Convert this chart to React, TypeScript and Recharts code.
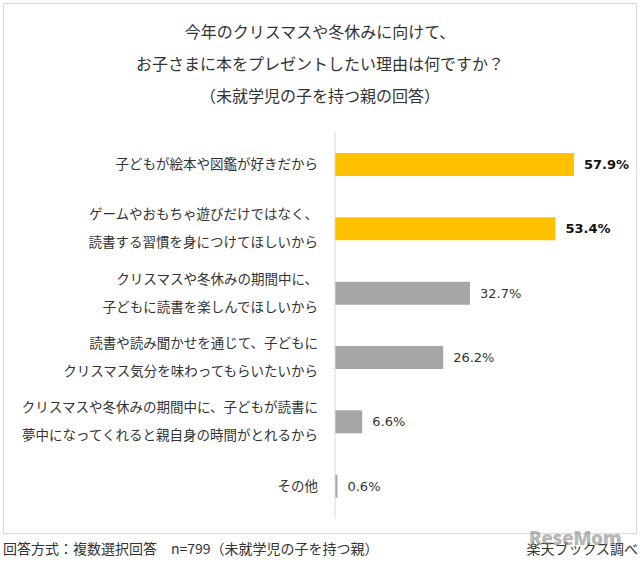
import { BarChart, Bar, XAxis, YAxis, Cell, LabelList } from "recharts";

const categories = [
  "子どもが絵本や図鑑が好きだから",
  "ゲームやおもちゃ遊びだけではなく、\n読書する習慣を身につけてほしいから",
  "クリスマスや冬休みの期間中に、\n子どもに読書を楽しんでほしいから",
  "読書や読み聞かせを通じて、子どもに\nクリスマス気分を味わってもらいたいから",
  "クリスマスや冬休みの期間中に、子どもが読書に\n夢中になってくれると親自身の時間がとれるから",
  "その他",
];
const values = [57.9, 53.4, 32.7, 26.2, 6.6, 0.6];
const highlighted = [true, true, false, false, false, false];

const titleLines = [
  "今年のクリスマスや冬休みに向けて、",
  "お子さまに本をプレゼントしたい理由は何ですか？",
  "（未就学児の子を持つ親の回答）",
];
const footerLeft = "回答方式：複数選択回答　n=799（未就学児の子を持つ親）";
const footerRight = "楽天ブックス調べ";

const data = categories.map((name, i) => ({
  name,
  value: values[i],
  hi: highlighted[i],
}));

const JP = '"Noto Sans CJK JP", "Noto Sans", sans-serif';
const NUM = '"DejaVu Sans", "Noto Sans CJK JP", sans-serif';

function CategoryTick(props: any) {
  const { x, y, payload } = props;
  const lines = String(payload.value).split("\n");
  const gap = 28;
  const start = -((lines.length - 1) * gap) / 2;
  return (
    <g>
      {lines.map((line, i) => (
        <text
          key={i}
          x={x}
          y={y + start + i * gap}
          dy="0.35em"
          textAnchor="end"
          fill="#333"
          fontSize={13.5}
          fontFamily={JP}
        >
          {line}
        </text>
      ))}
    </g>
  );
}

function ValueLabel(props: any) {
  const { x, y, width, height, index } = props;
  const bold = highlighted[index];
  return (
    <text
      x={x + width + 10}
      y={y + height / 2}
      dy="0.35em"
      fill={bold ? "#111" : "#333"}
      fontWeight={bold ? 700 : 400}
      fontSize={13}
      fontFamily={NUM}
    >
      {values[index].toFixed(1)}%
    </text>
  );
}

export default function App() {
  return (
    <div
      style={{
        position: "absolute",
        left: 0,
        top: 0,
        width: 640,
        height: 563,
        background: "#fff",
        fontFamily: JP,
        color: "#333",
        overflow: "hidden",
      }}
    >
      <div
        style={{
          position: "absolute",
          left: 3,
          top: 3,
          width: 632,
          height: 529,
          border: "1px solid #d9d9d9",
        }}
      />
      {titleLines.map((t, i) => (
        <div
          key={i}
          style={{
            position: "absolute",
            left: 0,
            width: 640,
            top: [31, 63, 95][i] - 11,
            height: 22,
            lineHeight: "22px",
            textAlign: "center",
            fontSize: 16,
          }}
        >
          {t}
        </div>
      ))}
      <div style={{ position: "absolute", left: 0, top: 0 }}>
        <BarChart
          width={640}
          height={563}
          data={data}
          layout="vertical"
          margin={{ top: 132, right: 16, bottom: 45, left: 0 }}
          barCategoryGap={0}
        >
          <XAxis type="number" domain={[0, 70]} hide />
          <YAxis
            type="category"
            dataKey="name"
            width={335}
            tickLine={false}
            tickSize={0}
            tickMargin={17}
            axisLine={{ stroke: "#d9d9d9" }}
            tick={<CategoryTick />}
            interval={0}
          />
          <Bar dataKey="value" barSize={23} isAnimationActive={false}>
            {data.map((d, i) => (
              <Cell key={i} fill={d.hi ? "#ffc000" : "#a6a6a6"} />
            ))}
            <LabelList dataKey="value" content={<ValueLabel />} />
          </Bar>
        </BarChart>
      </div>
      <div
        style={{
          position: "absolute",
          left: 3,
          top: 538,
          height: 20,
          lineHeight: "20px",
          fontSize: 14,
          whiteSpace: "nowrap",
        }}
      >
        {footerLeft}
      </div>
      <div
        style={{
          position: "absolute",
          right: 2,
          top: 538,
          height: 20,
          lineHeight: "20px",
          fontSize: 14,
          whiteSpace: "nowrap",
        }}
      >
        {footerRight}
      </div>
      <div
        style={{
          position: "absolute",
          left: 529,
          top: 526,
          height: 24,
          lineHeight: "24px",
          fontFamily: '"Open Sans", sans-serif',
          fontWeight: 800,
          fontSize: 19,
          color: "rgba(120,120,120,0.55)",
          letterSpacing: -0.5,
          whiteSpace: "nowrap",
        }}
      >
        ReseMom
      </div>
    </div>
  );
}
